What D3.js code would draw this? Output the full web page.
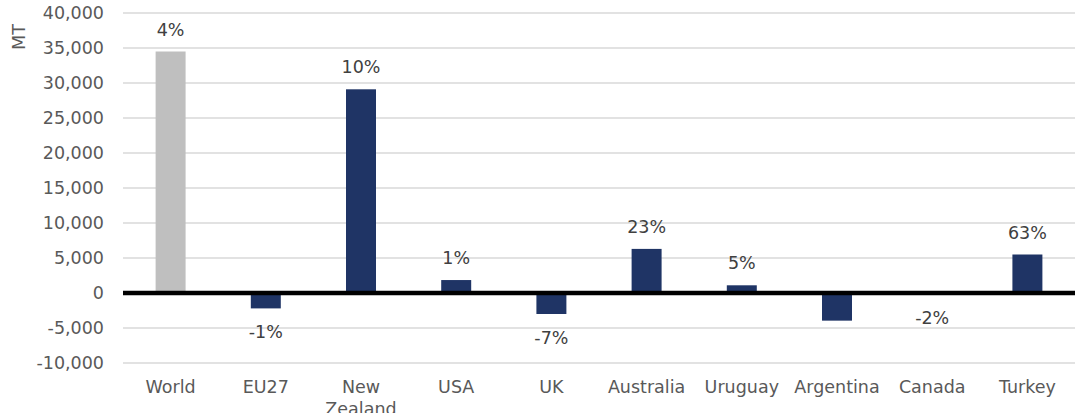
<!DOCTYPE html>
<html>
<head>
<meta charset="utf-8">
<script src="https://cdn.jsdelivr.net/npm/d3@7"></script>
<style>
  html, body { margin: 0; padding: 0; background: #fff; }
  text { font-family: "DejaVu Sans", sans-serif; }
</style>
</head>
<body>
<svg id="chart" width="1077" height="413"></svg>
<script>
// Change in exports by origin (MT) with year-on-year % change
const categories = ["World", "EU27", "New Zealand", "USA", "UK", "Australia", "Uruguay", "Argentina", "Canada", "Turkey"];
const values = [34500, -2200, 29100, 1850, -3000, 6300, 1100, -3950, -200, 5500];
const pctLabels = ["4%", "-1%", "10%", "1%", "-7%", "23%", "5%", "", "-2%", "63%"];
const yTicks = [-10000, -5000, 0, 5000, 10000, 15000, 20000, 25000, 30000, 35000, 40000];

const svg = d3.select("#chart");
const plotLeft = 123, plotRight = 1075, plotTop = 13, plotBottom = 363;
const fontSize = 17.5;

const x = d3.scaleBand().domain(categories).range([plotLeft, plotRight]).padding(0);
const y = d3.scaleLinear().domain([-10000, 40000]).range([plotBottom, plotTop]);
const barW = x.bandwidth() * 0.315;

// gridlines
svg.append("g")
  .selectAll("line")
  .data(yTicks)
  .join("line")
  .attr("x1", plotLeft).attr("x2", plotRight)
  .attr("y1", d => y(d)).attr("y2", d => y(d))
  .attr("stroke", "#d9d9d9").attr("stroke-width", 1.6);

// y axis labels (plain hyphen for negatives)
const fmt = d3.format(",");
const yAxis = d3.axisLeft(y).tickValues(yTicks).tickSize(0).tickPadding(0)
  .tickFormat(d => fmt(d).replace("\u2212", "-"));
svg.append("g")
  .attr("transform", `translate(104,0)`)
  .call(yAxis)
  .call(g => g.select(".domain").remove())
  .call(g => g.selectAll("text")
    .attr("fill", "#595959")
    .attr("font-size", fontSize)
    .attr("font-family", "'DejaVu Sans', sans-serif"));

// y axis title
svg.append("text")
  .attr("transform", "translate(19,37) rotate(-90)")
  .attr("text-anchor", "middle")
  .attr("dominant-baseline", "central")
  .attr("fill", "#595959")
  .attr("font-size", fontSize)
  .text("MT");

// bars
svg.append("g")
  .selectAll("rect")
  .data(categories)
  .join("rect")
  .attr("x", (d) => x(d) + (x.bandwidth() - barW) / 2)
  .attr("width", barW)
  .attr("y", (d, i) => y(Math.max(0, values[i])))
  .attr("height", (d, i) => Math.abs(y(values[i]) - y(0)))
  .attr("fill", (d, i) => i === 0 ? "#bfbfbf" : "#1f3465");

// zero line
svg.append("line")
  .attr("x1", plotLeft).attr("x2", plotRight)
  .attr("y1", y(0)).attr("y2", y(0))
  .attr("stroke", "#000").attr("stroke-width", 4.5);

// value labels
svg.append("g")
  .selectAll("text")
  .data(categories)
  .join("text")
  .attr("x", d => x(d) + x.bandwidth() / 2)
  .attr("y", (d, i) => values[i] >= 0 ? y(values[i]) - 22 : y(values[i]) + 24)
  .attr("text-anchor", "middle")
  .attr("dominant-baseline", "central")
  .attr("fill", "#404040")
  .attr("font-size", fontSize)
  .text((d, i) => pctLabels[i]);

// category labels (wrap two-word names over two lines)
const xl = svg.append("g")
  .selectAll("text")
  .data(categories)
  .join("text")
  .attr("x", d => x(d) + x.bandwidth() / 2)
  .attr("y", 387)
  .attr("text-anchor", "middle")
  .attr("dominant-baseline", "central")
  .attr("fill", "#595959")
  .attr("font-size", fontSize);
xl.each(function(d) {
  const words = d.split(" ");
  const t = d3.select(this);
  const cx = t.attr("x");
  words.forEach((w, k) => {
    t.append("tspan").attr("x", cx).attr("dy", k === 0 ? 0 : 22).text(w);
  });
});
</script>
</body>
</html>
